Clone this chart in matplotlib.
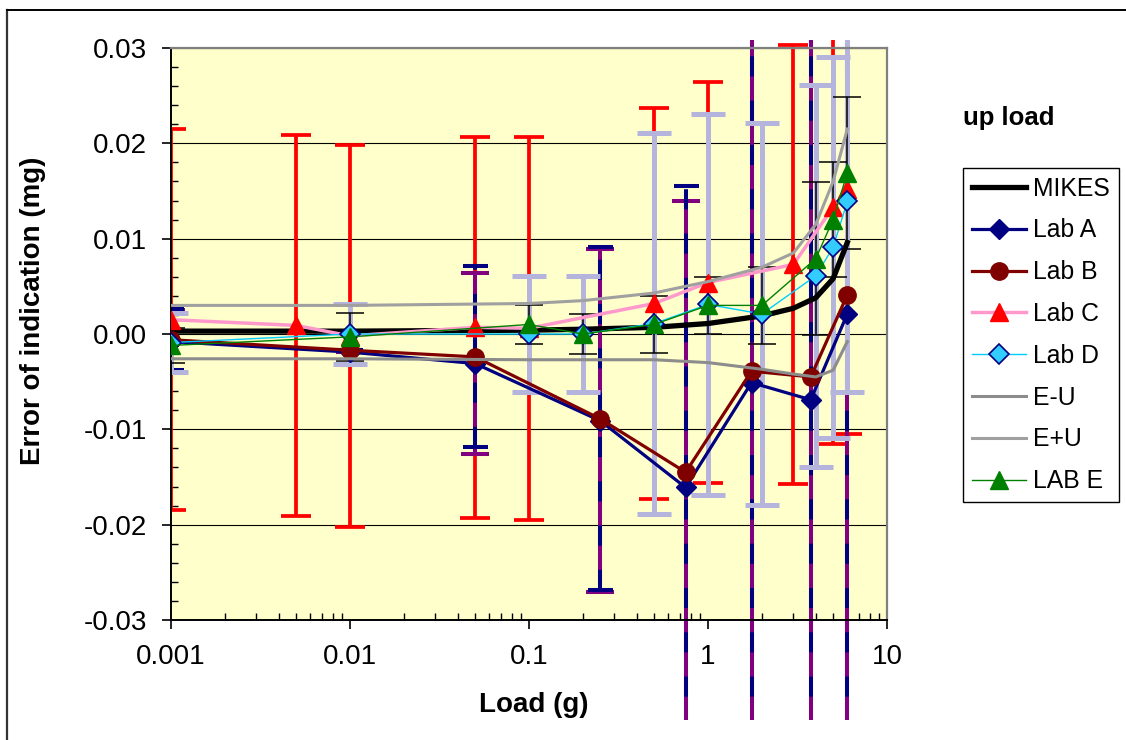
import matplotlib
matplotlib.use("Agg")
import matplotlib.pyplot as plt
from matplotlib.lines import Line2D
from matplotlib.ticker import (FixedLocator, FuncFormatter, LogLocator,
                               MultipleLocator, NullFormatter, FormatStrFormatter)
from matplotlib.transforms import Bbox, TransformedBbox

plt.rcParams["font.family"] = ["Liberation Sans", "DejaVu Sans"]

# ---- data ----
X_REF = [0.001, 0.01, 0.1, 0.2, 0.5, 1, 2, 3, 4, 5, 6]
MIKES = [0.0003, 0.0003, 0.0004, 0.0005, 0.0007, 0.0011, 0.0019, 0.0027, 0.0038, 0.0058, 0.0096]
E_MINUS_U = [-0.0026, -0.0026, -0.0027, -0.0027, -0.0027, -0.0030, -0.0037, -0.0042, -0.0045, -0.0038, -0.0008]
E_PLUS_U = [0.0030, 0.0030, 0.0032, 0.0035, 0.0043, 0.0055, 0.0070, 0.0085, 0.0115, 0.0160, 0.0215]

X_AB = [0.001, 0.01, 0.05, 0.25, 0.75, 1.75, 3.75, 6]
LAB_A = [-0.0008, -0.0019, -0.0031, -0.0091, -0.0161, -0.0051, -0.0069, 0.0021]
LAB_A_U = [0.0033, 0.0, 0.0095, 0.018, 0.030, 0.06, 0.06, 0.06]
LAB_B = [-0.0006, -0.0017, -0.0024, -0.0089, -0.0145, -0.0039, -0.0045, 0.0041]
LAB_B_U = [0.0032, 0.0, 0.0095, 0.018, 0.030, 0.06, 0.06, 0.06]

X_C = [0.001, 0.005, 0.01, 0.05, 0.1, 0.5, 1, 3, 5, 6]
LAB_C = [0.0015, 0.0009, -0.0002, 0.0007, 0.0006, 0.0032, 0.0054, 0.0073, 0.0133, 0.0152]
LAB_C_U = [0.020, 0.020, 0.020, 0.020, 0.0201, 0.0205, 0.021, 0.023, 0.0248, 0.0257]

X_D = [0.001, 0.01, 0.1, 0.2, 0.5, 1, 2, 4, 5, 6]
LAB_D = [-0.0009, 0.0, 0.0, 0.0, 0.0011, 0.0031, 0.0021, 0.0061, 0.0091, 0.0139]
LAB_D_U = [0.0031, 0.0031, 0.0061, 0.0061, 0.020, 0.020, 0.020, 0.020, 0.020, 0.020]

X_E = [0.001, 0.01, 0.1, 0.2, 0.5, 1, 2, 4, 5, 6]
LAB_E = [-0.0012, -0.0003, 0.001, 0.0, 0.001, 0.003, 0.003, 0.0079, 0.012, 0.0169]
LAB_E_U = [0.0018, 0.0025, 0.002, 0.0021, 0.003, 0.003, 0.004, 0.008, 0.006, 0.008]

X_TICKS = [0.001, 0.01, 0.1, 1, 10]

C_NAVY = "#000080"
C_MAROON = "#800000"
C_PINK = "#FF99CC"
C_RED = "#FF0000"
C_CYAN = "#00CCFF"
C_GREEN = "#008000"
C_LAV = "#B4B4DC"
C_PURPLE = "#800080"

W, H = 1126, 740
fig = plt.figure(figsize=(W / 100, H / 100), dpi=100)
ax = fig.add_axes([171 / W, 1 - 620 / H, 716 / W, 572 / H])
ax.set_facecolor("#FFFFCC")

# error bars may run a bit past the plot area (as in the original)
clip = TransformedBbox(Bbox.from_extents(171 / W, 20 / H, 887 / W, 700 / H),
                       fig.transFigure)


def errbars(x, y, u, color, lw, cap, z, dashed=False):
    cont = ax.errorbar(x, y, yerr=u, fmt="none", ecolor=color, elinewidth=lw,
                       capsize=cap, capthick=lw, zorder=z)
    _, caps, bars = cont.lines
    for a in list(caps) + list(bars):
        a.set_clip_box(clip)
    if dashed:
        for b in bars:
            b.set_linestyle((0, (5, 6)))
    return cont


errbars(X_C, LAB_C, LAB_C_U, C_RED, 2.7, 11, 2.0)
errbars(X_AB, LAB_A, LAB_A_U, C_PURPLE, 2.9, 10, 2.1)
errbars(X_AB, LAB_B, LAB_B_U, C_NAVY, 2.9, 9, 2.2, dashed=True)
errbars(X_D, LAB_D, LAB_D_U, C_LAV, 3.6, 12, 2.3)
errbars(X_E, LAB_E, LAB_E_U, "black", 1.1, 10, 2.4)

ax.plot(X_REF, MIKES, color="black", lw=3.8, zorder=3)
ax.plot(X_AB, LAB_A, color=C_NAVY, lw=2.3, marker="D", ms=10,
        mfc=C_NAVY, mec=C_NAVY, zorder=3.1)
ax.plot(X_AB, LAB_B, color=C_MAROON, lw=2.3, marker="o", ms=12.5,
        mfc=C_MAROON, mec=C_MAROON, zorder=3.2)
ax.plot(X_C, LAB_C, color=C_PINK, lw=2.5, marker="^", ms=13,
        mfc=C_RED, mec=C_RED, zorder=3.3)
ax.plot(X_D, LAB_D, color=C_CYAN, lw=1.0, marker="D", ms=10,
        mfc="#33CCFF", mec=C_NAVY, mew=1.2, zorder=3.4)
ax.plot(X_REF, E_MINUS_U, color="#8C8C8C", lw=2.2, zorder=3.5)
ax.plot(X_REF, E_PLUS_U, color="#A0A0A0", lw=2.2, zorder=3.6)
ax.plot(X_E, LAB_E, color=C_GREEN, lw=1.0, marker="^", ms=13,
        mfc=C_GREEN, mec=C_GREEN, zorder=3.7)

# axes
ax.set_xscale("log")
ax.set_xlim(0.001, 10)
ax.set_ylim(-0.03, 0.03)
ax.xaxis.set_major_locator(FixedLocator(X_TICKS))
ax.xaxis.set_major_formatter(FuncFormatter(lambda v, _: f"{v:g}"))
ax.xaxis.set_minor_locator(LogLocator(base=10, subs=range(2, 10)))
ax.xaxis.set_minor_formatter(NullFormatter())
ax.yaxis.set_major_locator(MultipleLocator(0.01))
ax.yaxis.set_minor_locator(MultipleLocator(0.002))
ax.yaxis.set_major_formatter(FormatStrFormatter("%.2f"))

ax.tick_params(which="major", direction="out", length=6.5, width=1.2,
               labelsize=20)
ax.tick_params(axis="y", which="major", pad=11)
ax.tick_params(axis="x", which="major", pad=11)
ax.tick_params(which="minor", direction="in", length=5, width=1.0)
ax.grid(axis="y", which="major", color="black", lw=0.8)
ax.set_axisbelow(True)
for s in ("left", "bottom"):
    ax.spines[s].set_color("black")
    ax.spines[s].set_linewidth(1.4)
for s in ("top", "right"):
    ax.spines[s].set_color("#808080")
    ax.spines[s].set_linewidth(1.6)

fig.text(534 / W, 1 - 705 / H, "Load (g)", ha="center", va="center",
         fontsize=20, fontweight="bold")
fig.text(33 / W, 1 - 311 / H, "Error of indication (mg)", ha="center",
         va="center", rotation=90, fontsize=20, fontweight="bold")
fig.text(963 / W, 1 - 118 / H, "up load", ha="left", va="center",
         fontsize=18.5, fontweight="bold")

# legend
handles = [
    Line2D([], [], color="black", lw=3.8),
    Line2D([], [], color=C_NAVY, lw=2.3, marker="D", ms=10, mfc=C_NAVY, mec=C_NAVY),
    Line2D([], [], color=C_MAROON, lw=2.3, marker="o", ms=12.5, mfc=C_MAROON, mec=C_MAROON),
    Line2D([], [], color=C_PINK, lw=2.5, marker="^", ms=13, mfc=C_RED, mec=C_RED),
    Line2D([], [], color=C_CYAN, lw=1.0, marker="D", ms=10, mfc="#33CCFF", mec=C_NAVY, mew=1.2),
    Line2D([], [], color="#8C8C8C", lw=2.2),
    Line2D([], [], color="#A0A0A0", lw=2.2),
    Line2D([], [], color=C_GREEN, lw=1.0, marker="^", ms=13, mfc=C_GREEN, mec=C_GREEN),
]
labels = ["MIKES", "Lab A", "Lab B", "Lab C", "Lab D", "E-U", "E+U", "LAB E"]
leg = fig.legend(handles, labels, loc="upper left",
                 bbox_to_anchor=(963 / W, 1 - 168 / H), borderaxespad=0,
                 fontsize=17.8, numpoints=1, handlelength=2.2,
                 handletextpad=0.3, labelspacing=0.72, borderpad=0.35,
                 fancybox=False, edgecolor="black", framealpha=1)
leg.get_frame().set_linewidth(1.0)

# chart-area border (left and top edges visible)
fig.add_artist(Line2D([7 / W, 7 / W], [0, 1 - 10 / H], color="#333333",
                      lw=1.6, transform=fig.transFigure))
fig.add_artist(Line2D([7 / W, 1], [1 - 10 / H, 1 - 10 / H], color="black",
                      lw=1.4, transform=fig.transFigure))

fig.savefig("out.png", dpi=100)
